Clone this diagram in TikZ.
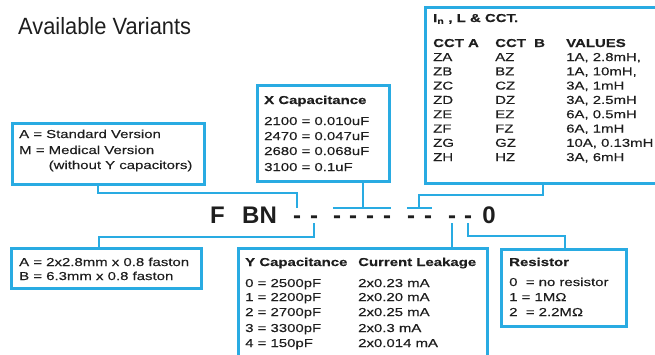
\documentclass[tikz,border=0pt]{standalone}
\usepackage{fontspec}
\setmainfont{Liberation Sans}
\newfontfamily\bxf[FakeStretch=1.3,FakeBold=0.3]{Liberation Sans}
\newfontfamily\ttlf[FakeStretch=0.93]{Liberation Sans}
\definecolor{lblue}{RGB}{41,171,226}
\definecolor{ink}{RGB}{30,30,30}
\begin{document}
\begin{tikzpicture}[x=1pt,y=-1pt,
  box/.style={draw=lblue,line width=2.6pt,inner sep=0pt,anchor=north west},
  conn/.style={draw=lblue,line width=2.4pt},
  txt/.style={anchor=base west,inner sep=0pt,text=ink,font=\bxf\fontsize{11.5}{13}\selectfont},
  hdr/.style={txt,font=\bxf\bfseries\fontsize{11.5}{13}\selectfont},
  code/.style={anchor=base,inner sep=0pt,text=ink,font=\bfseries\fontsize{24}{28}\selectfont},
  dsh/.style={code,text height=15pt,text depth=0pt}]
\useasboundingbox (0,0) rectangle (655,354);
\clip (0,0) rectangle (655,354);

% title
\node[anchor=base west,inner sep=0pt,text=ink,font=\ttlf\fontsize{23.5}{28}\selectfont] (title) at (18,34) {Available Variants};

% boxes
\node[box,minimum width=192pt,minimum height=61pt] (bam) at (11,122) {};
\node[box,minimum width=190pt,minimum height=40pt] (bfa) at (10,247) {};
\node[box,minimum width=132pt,minimum height=96pt] (bx) at (256,84) {};
\node[box,minimum width=260pt,minimum height=176pt] (bin) at (424,6) {};
\node[box,minimum width=249pt,minimum height=130pt] (by) at (237,247) {};
\node[box,minimum width=125pt,minimum height=77pt] (br) at (500,248) {};

% version box
\node[txt] (am1) at (19,138) {A = Standard Version};
\node[txt] (am2) at (19,154) {M = Medical Version};
\node[txt] (am3) at (19,169) {\phantom{M = }(without Y capacitors)};

% faston box
\node[txt] (fa1) at (19,266) {A = 2x2.8mm x 0.8 faston};
\node[txt] (fa2) at (19,280) {B = 6.3mm x 0.8 faston};

% X capacitance
\node[hdr] (xh) at (264,104) {X Capacitance};
\node[txt] (x1) at (264,125) {2100 = 0.010uF};
\node[txt] (x2) at (264,140) {2470 = 0.047uF};
\node[txt] (x3) at (264,155) {2680 = 0.068uF};
\node[txt] (x4) at (264,171) {3100 = 0.1uF};

% In, L & CCT
\node[hdr] (inh) at (433,22) {I\textsubscript{n} , L \& CCT.};
\node[hdr] (ca) at (433,47) {CCT A};
\node[hdr] (cb) at (495,47) {CCT\ \ B};
\node[hdr] (cv) at (566,47) {VALUES};
\foreach \a/\b/\v [count=\i from 0] in {ZA/AZ/{1A, 2.8mH,},ZB/BZ/{1A, 10mH,},ZC/CZ/{3A, 1mH},ZD/DZ/{3A, 2.5mH},ZE/EZ/{6A, 0.5mH},ZF/FZ/{6A, 1mH},ZG/GZ/{10A, 0.13mH},ZH/HZ/{3A, 6mH}}{
  \node[txt] (ra\i) at (433,61+14.3*\i) {\a};
  \node[txt] (rb\i) at (495,61+14.3*\i) {\b};
  \node[txt] (rv\i) at (566,61+14.3*\i) {\v};
}

% Y capacitance
\node[hdr] (yh) at (245,266) {Y Capacitance};
\node[hdr] (lh) at (358,266) {Current Leakage};
\foreach \c/\l/\yy [count=\i] in {0 = 2500pF/2x0.23 mA/287,1 = 2200pF/2x0.20 mA/301,2 = 2700pF/2x0.25 mA/316,3 = 3300pF/2x0.3 mA/332,4 = 150pF/2x0.014 mA/347}{
  \node[txt] (yc\i) at (245,\yy) {\c};
  \node[txt] (yl\i) at (358,\yy) {\l};
}

% Resistor
\node[hdr] (rh) at (509,266) {Resistor};
\node[txt] (r0) at (509,286) {0\ \ = no resistor};
\node[txt] (r1) at (509,301) {1 = 1M\symbol{"03A9}};
\node[txt] (r2) at (509,316) {2\ \ = 2.2M\symbol{"03A9}};

% code
\node[code,anchor=base west] (cf) at (210,223) {F};
\node[code,anchor=base west] (cbn) at (242,223) {BN};
\foreach \xx [count=\i] in {297,314,337,353,370,387,411,428,452,468}{
  \node[dsh] (d\i) at (\xx,223) {-};
}
\node[code] (c0) at (489,223) {0};

% connectors
\coordinate (j1) at (98,193);
\draw[conn] (bam.south -| j1) -- (j1) -| (d1.north);
\coordinate (j2) at (99,237);
\draw[conn] (d2.south) |- (j2) -- (j2 |- bfa.north);
\coordinate (j3) at (363,208);
\draw[conn] (bx.south -| j3) -- (j3);
\draw[conn] (d3.north west) -- (d6.north east);
\coordinate (j4) at (543,195);
\coordinate (j4b) at (419,195);
\draw[conn] (bin.south -| j4) -- (j4) -- (j4b) -- (j4b |- d7.north);
\draw[conn] (d7.north west) -- (d8.north east);
\draw[conn] (d9.south) -- (d9.south |- by.north);
\coordinate (j6) at (565,236);
\draw[conn] (d10.south) |- (j6) -- (j6 |- br.north);
\end{tikzpicture}
\end{document}
